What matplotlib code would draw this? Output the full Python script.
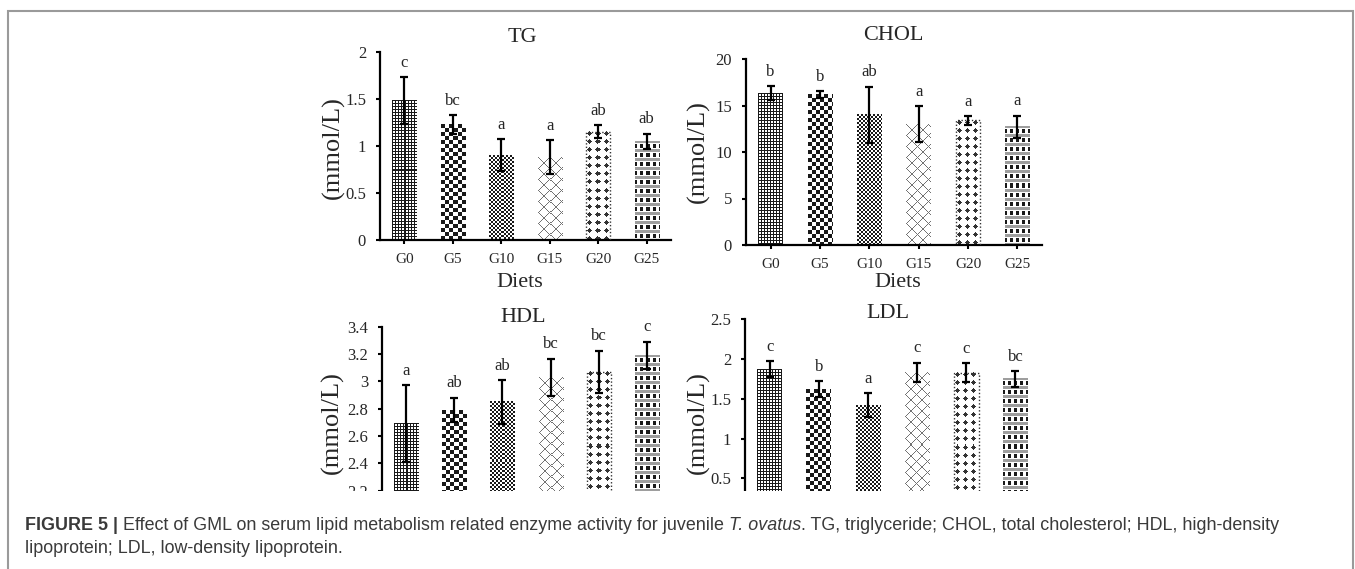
import numpy as np
import matplotlib
matplotlib.use('Agg')
import matplotlib.pyplot as plt
from matplotlib.patches import Rectangle

# ---------------- data ----------------
diets = ['G0', 'G5', 'G10', 'G15', 'G20', 'G25']

tg_mean = [1.48, 1.23, 0.90, 0.88, 1.15, 1.05]
tg_err = [0.25, 0.10, 0.17, 0.18, 0.07, 0.08]
tg_letters = ['c', 'bc', 'a', 'a', 'ab', 'ab']
tg_ticks = [0, 0.5, 1, 1.5, 2]
tg_ticklabels = ['0', '0.5', '1', '1.5', '2']

chol_mean = [16.3, 16.2, 14.0, 13.0, 13.4, 12.7]
chol_err = [0.75, 0.35, 3.0, 1.95, 0.45, 1.2]
chol_letters = ['b', 'b', 'ab', 'a', 'a', 'a']
chol_ticks = [0, 5, 10, 15, 20]
chol_ticklabels = ['0', '5', '10', '15', '20']

hdl_mean = [2.69, 2.79, 2.85, 3.03, 3.07, 3.19]
hdl_err = [0.28, 0.09, 0.16, 0.135, 0.155, 0.10]
hdl_letters = ['a', 'ab', 'ab', 'bc', 'bc', 'c']
hdl_ticks = [2.2, 2.4, 2.6, 2.8, 3.0, 3.2, 3.4]
hdl_ticklabels = ['2.2', '2.4', '2.6', '2.8', '3', '3.2', '3.4']

ldl_mean = [1.87, 1.62, 1.42, 1.83, 1.83, 1.75]
ldl_err = [0.10, 0.10, 0.15, 0.125, 0.12, 0.10]
ldl_letters = ['c', 'b', 'a', 'c', 'c', 'bc']
ldl_ticks = [0.5, 1, 1.5, 2, 2.5]
ldl_ticklabels = ['0.5', '1', '1.5', '2', '2.5']

caption_bold = 'FIGURE 5 |'
caption_1a = ' Effect of GML on serum lipid metabolism related enzyme activity for juvenile '
caption_1b = 'T. ovatus'
caption_1c = '. TG, triglyceride; CHOL, total cholesterol; HDL, high-density'
caption_2 = 'lipoprotein; LDL, low-density lipoprotein.'

# ---------------- figure ----------------
W, H = 1355, 569
fig = plt.figure(figsize=(W / 100, H / 100), dpi=100)
fig.patch.set_facecolor('white')
SERIF = ['Liberation Serif', 'DejaVu Serif']
TXT = '#262626'
BLK = np.array([0.10, 0.10, 0.10])


def axes_px(l, r, t, b):
    return fig.add_axes([l / W, 1 - b / H, (r - l) / W, (b - t) / H])


# ---------- bar patterns (pixel based) ----------
def pattern(kind, h, w):
    yy, xx = np.mgrid[0:h, 0:w]
    img = np.ones((h, w, 3))
    if kind == 0:      # fine grid
        m = (xx % 3 == 0) | (yy % 3 == 0)
        img[m] = BLK
    elif kind == 1:    # checkerboard
        m = ((xx // 4 + yy // 4) % 2 == 0)
        img[m] = BLK
    elif kind == 2:    # fine checker
        m = ((xx // 2 + yy // 2) % 2 == 0)
        img[m] = BLK
    elif kind == 3:    # diagonal crosses
        m = ((xx + yy) % 11 == 0) | ((xx - yy) % 11 == 0)
        img[m] = [0.45, 0.45, 0.45]
    elif kind == 4:    # diamonds
        dx = np.abs((xx + 1) % 8 - 4)
        dy = np.abs((yy + 2) % 8 - 4)
        m = (dx + dy) <= 2
        img[m] = [0.2, 0.2, 0.2]
    elif kind == 5:    # gray bands with black squares
        r = (yy + 1) % 9
        band = (r <= 2)
        img[band] = [0.62, 0.62, 0.62]
        m = (r >= 4) & (r <= 7) & (((xx + 1) % 6) <= 2)
        img[m] = BLK
    return img


def panel(l, r, t, b, means, errs, letters, ylim, ticks, ticklabels,
          title, title_xy, ylabel_xy, bottom_visible, diets_xy=None):
    ax = axes_px(l, r, t, b)
    x = np.arange(len(diets))
    base = ylim[0]
    heights = [m - base for m in means]
    bars = ax.bar(x, heights, width=0.5, bottom=base, color='none',
                  edgecolor='none', zorder=2)
    ax.errorbar(x, means, yerr=errs, fmt='none', ecolor='black',
                elinewidth=1.6, capsize=3, capthick=1.6, zorder=4)
    for xi, m, e, lt in zip(x, means, errs, letters):
        ax.annotate(lt, (xi, m + e), xytext=(0, 7.5), textcoords='offset points',
                    ha='center', va='baseline', fontsize=12,
                    family=SERIF, color=TXT, zorder=5)
    ax.set_xlim(-0.5, len(diets) - 0.5)
    ax.set_ylim(*ylim)
    ax.set_yticks(ticks)
    ax.set_yticklabels(ticklabels, family=SERIF, fontsize=12, color=TXT)
    ax.set_xticks(x)
    ax.set_xticklabels(diets, family=SERIF, fontsize=11, color=TXT)
    for s in ['top', 'right']:
        ax.spines[s].set_visible(False)
    ax.spines['left'].set_linewidth(1.6)
    ax.spines['bottom'].set_linewidth(1.6)
    ax.tick_params(axis='both', direction='out', length=3, width=1.5,
                   colors='black', pad=7)
    ax.tick_params(axis='x', pad=6)
    for lab in ax.get_yticklabels() + ax.get_xticklabels():
        lab.set_color(TXT)
    if not bottom_visible:
        ax.spines['bottom'].set_visible(False)
        ax.tick_params(axis='x', length=0, labelbottom=False)
    ax.patch.set_alpha(0)
    fig.text(title_xy[0] / W, 1 - title_xy[1] / H, title, ha='center',
             va='center', fontsize=16, family=SERIF, color=TXT)
    fig.text(ylabel_xy[0] / W, 1 - ylabel_xy[1] / H, '(mmol/L)', ha='center',
             va='center', rotation=90, fontsize=19, family=SERIF, color=TXT)
    if diets_xy is not None:
        fig.text(diets_xy[0] / W, 1 - diets_xy[1] / H, 'Diets', ha='center',
                 va='baseline', fontsize=16, family=SERIF, color=TXT)
    return ax, bars


panels = []
panels.append(panel(380, 671, 52, 240, tg_mean, tg_err, tg_letters, (0, 2),
                    tg_ticks, tg_ticklabels, 'TG', (522, 38), (333, 148), True,
                    (520, 287)))
panels.append(panel(746, 1042, 59, 245, chol_mean, chol_err, chol_letters,
                    (0, 20), chol_ticks, chol_ticklabels, 'CHOL', (893, 35),
                    (698, 152), True, (898, 287)))
panels.append(panel(382, 671, 326.7, 518, hdl_mean, hdl_err, hdl_letters,
                    (2.0, 3.4), hdl_ticks, hdl_ticklabels, 'HDL', (523, 318),
                    (332, 423), False))
panels.append(panel(745, 1040, 319.3, 518, ldl_mean, ldl_err, ldl_letters,
                    (0, 2.5), ldl_ticks, ldl_ticklabels, 'LDL', (888, 313),
                    (698, 423), False))

# fill bars with pixel patterns clipped to the bar rectangles
fig.canvas.draw()
for ax, bars in panels:
    xl, yl = ax.get_xlim(), ax.get_ylim()
    for k, bar in enumerate(bars):
        bb = bar.get_window_extent()
        w = max(int(round(bb.width)), 1)
        h = max(int(round(bb.height)), 1)
        img = pattern(k, h, w)
        x0, y0 = bar.get_x(), bar.get_y()
        ax.imshow(img, extent=[x0, x0 + bar.get_width(), y0, y0 + bar.get_height()],
                  origin='upper', interpolation='nearest', aspect='auto',
                  zorder=2, clip_path=bar, clip_on=True)
        if k == 4:
            bar.set_edgecolor('#333333')
            bar.set_linestyle((0, (1, 1.5)))
            bar.set_linewidth(1.0)
            bar.set_zorder(3)
    ax.set_xlim(xl)
    ax.set_ylim(yl)

# the chart image is cropped at its bottom
fig.patches.append(Rectangle((270 / W, 1 - 522 / H), 810 / W, 31.5 / H,
                             transform=fig.transFigure, facecolor='white',
                             edgecolor='none', zorder=8))

# outer frame
fig.patches.append(Rectangle((8 / W, -0.1), (1353 - 8) / W, 1.1 - 11 / H,
                             transform=fig.transFigure, facecolor='none',
                             edgecolor='#9a9a9a', linewidth=1.5, zorder=9))

# caption
SANS = ['Liberation Sans', 'DejaVu Sans']
CAP = '#3a3a3a'
CAPSIZE = 12.9
renderer = fig.canvas.get_renderer()
xpos = 25 / W
y1 = 1 - 530 / H
for txt, weight, style in [(caption_bold, 'bold', 'normal'),
                           (caption_1a, 'normal', 'normal'),
                           (caption_1b, 'normal', 'italic'),
                           (caption_1c, 'normal', 'normal')]:
    t = fig.text(xpos, y1, txt, ha='left', va='baseline', fontsize=CAPSIZE,
                 family=SANS, weight=weight, style=style, color=CAP, zorder=10)
    bb = t.get_window_extent(renderer)
    xpos = bb.x1 / W
fig.text(25 / W, 1 - 553 / H, caption_2, ha='left', va='baseline',
         fontsize=CAPSIZE, family=SANS, color=CAP, zorder=10)

fig.savefig('out.png', dpi=100, facecolor='white')
